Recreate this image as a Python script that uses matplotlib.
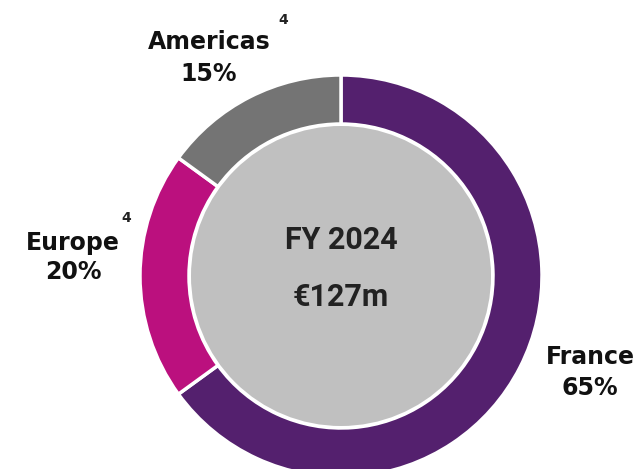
import matplotlib
matplotlib.use("Agg")
import matplotlib.pyplot as plt
from matplotlib.patches import Circle

# revenue split FY 2024
regions = ["France", "Europe", "Americas"]
shares = [65, 20, 15]
colors = ["#54206E", "#BB107E", "#747474"]
centre_lines = ["FY 2024", "€127m"]

W, H = 633, 469
fig = plt.figure(figsize=(W / 100, H / 100), dpi=100)
ax = fig.add_axes([0, 0, 1, 1])

cx, cy = 341, H - 276
ax.pie(shares, colors=colors, radius=201, center=(cx, cy), startangle=90,
       counterclock=False, frame=True,
       wedgeprops=dict(width=49, edgecolor="white", linewidth=2.5))
ax.add_patch(Circle((cx, cy), 150, facecolor="#C0C0C0", edgecolor="none", zorder=3))

ax.set_xlim(0, W)
ax.set_ylim(0, H)
ax.set_aspect("equal")
ax.axis("off")

lab = dict(fontsize=17, fontweight="bold", color="#111111", ha="center", va="center",
           family="DejaVu Sans")
sup = dict(fontsize=10, fontweight="bold", color="#222222", ha="center", va="center")

ax.text(209, H - 42, "Americas", **lab)
ax.text(209, H - 74, f"{shares[2]}%", **lab)
ax.text(283, H - 20, "4", **sup)

ax.text(73, H - 243, "Europe", **lab)
ax.text(73, H - 272, f"{shares[1]}%", **lab)
ax.text(126, H - 218, "4", **sup)

ax.text(590, H - 357, "France", **lab)
ax.text(590, H - 388, f"{shares[0]}%", **lab)

mid = dict(fontsize=22, fontweight="bold", color="#222222", ha="center", va="center",
           zorder=5, family="Roboto")
ax.text(cx, H - 240, centre_lines[0], **mid)
ax.text(cx, H - 297, centre_lines[1], **mid)

fig.savefig("out.png", dpi=100)
